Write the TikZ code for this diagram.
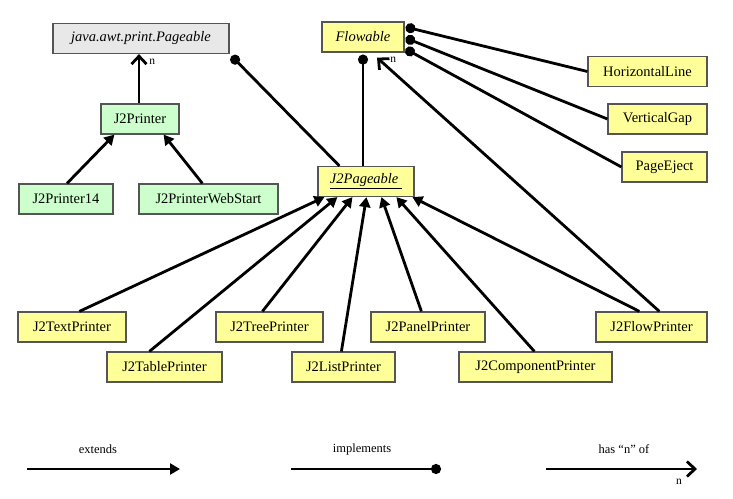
\documentclass[tikz,border=0pt]{standalone}
\usepackage{fontspec}
\setmainfont{Liberation Serif}
\usetikzlibrary{arrows.meta}
\definecolor{clsyellow}{HTML}{FFFF99}
\definecolor{clsgreen}{HTML}{CCFFCC}
\definecolor{clsgray}{HTML}{E8E8E8}
\definecolor{clsborder}{HTML}{555555}

\begin{document}
\begin{tikzpicture}[x=1pt, y=-1pt,
  cls/.style={draw=clsborder, line width=1.2pt, fill=clsyellow, minimum height=30pt, inner sep=0pt, font=\fontsize{14.5}{16}\selectfont},
  grn/.style={cls, fill=clsgreen},
  gry/.style={cls, fill=clsgray},
  link/.style={line width=2.8pt},
  extends/.style={link, -{Triangle[length=10pt, width=11pt]}},
  implements/.style={link, -{Circle[length=10pt]}},
  hasn/.style={link, -{Straight Barb[length=8pt, width=15pt]}},
  nlab/.style={font=\fontsize{11.5}{12}\selectfont, inner sep=0pt},
  legend/.style={font=\fontsize{12.5}{14}\selectfont, inner sep=0pt}]
\useasboundingbox (0,0) rectangle (733,498);

\node[gry, minimum width=176pt] (pageable) at (141,38.5) {\textit{java.awt.print.Pageable}};
\node[cls, minimum width=82pt] (flowable) at (363,37) {\textit{Flowable}};
\node[grn, minimum width=78pt] (j2printer) at (140,119) {J2Printer};
\node[grn, minimum width=94pt] (j2printer14) at (66,199) {J2Printer14};
\node[grn, minimum width=139pt] (webstart) at (208.5,199) {J2PrinterWebStart};
\node[cls, minimum width=96pt] (j2pageable) at (366,181.5) {\underline{\textit{J2Pageable}\ }};
\node[cls, minimum width=119pt] (hline) at (647.5,71.5) {HorizontalLine};
\node[cls, minimum width=99pt] (vgap) at (657.5,119) {VerticalGap};
\node[cls, minimum width=85pt] (pageeject) at (664.5,167) {PageEject};
\node[cls, minimum width=108pt] (textprinter) at (72,327) {J2TextPrinter};
\node[cls, minimum width=115pt] (tableprinter) at (164.5,367) {J2TablePrinter};
\node[cls, minimum width=107pt] (treeprinter) at (269.5,327) {J2TreePrinter};
\node[cls, minimum width=103pt] (listprinter) at (343.5,367) {J2ListPrinter};
\node[cls, minimum width=114pt] (panelprinter) at (428,327) {J2PanelPrinter};
\node[cls, minimum width=153pt] (compprinter) at (535.5,367) {J2ComponentPrinter};
\node[cls, minimum width=111pt] (flowprinter) at (651.5,327) {J2FlowPrinter};

\draw[hasn] ([xshift=-1pt]j2printer.north) -- ([xshift=-2pt]pageable.south) node[nlab, pos=0.84, right=9pt] (n1) {n};
\draw[extends] ([xshift=1pt]j2printer14.north) -- ([xshift=14pt]j2printer.south west);
\draw[extends] ([xshift=64pt]webstart.north west) -- ([xshift=-16pt]j2printer.south east);
\draw[implements] ([xshift=22pt]j2pageable.north west) -- ([shift={(2pt,-2pt)}]pageable.south east);
\draw[implements] ([xshift=-3pt]j2pageable.north) -- ([yshift=-2pt]flowable.south);
\draw[implements] (hline.west) -- ([shift={(1pt,10pt)}]flowable.east);
\draw[implements] (vgap.west) -- ([shift={(1pt,-1pt)}]flowable.east);
\draw[implements] (pageeject.west) -- ([shift={(1pt,-12pt)}]flowable.east);
\draw[hasn] ([xshift=64pt]flowprinter.north west) -- ([shift={(14pt,-5pt)}]flowable.south) node[nlab, at end, right=12pt, yshift=-2pt] (n2) {n};

\draw[extends] ([xshift=62pt]textprinter.north west) -- ([xshift=7pt]j2pageable.south west);
\draw[extends] ([xshift=43pt]tableprinter.north west) -- ([xshift=20pt]j2pageable.south west);
\draw[extends] ([xshift=47pt]treeprinter.north west) -- ([xshift=35pt]j2pageable.south west);
\draw[extends] ([xshift=50pt]listprinter.north west) -- ([xshift=49pt]j2pageable.south west);
\draw[extends] ([xshift=51pt]panelprinter.north west) -- ([xshift=64pt]j2pageable.south west);
\draw[extends] ([xshift=76pt]compprinter.north west) -- ([xshift=79pt]j2pageable.south west);
\draw[extends] ([xshift=44pt]flowprinter.north west) -- ([xshift=95pt]j2pageable.south west);

\coordinate (ext1) at (27,469);
\coordinate (ext2) at (180,469);
\coordinate (imp1) at (291,469);
\coordinate (imp2) at (441,469);
\coordinate (has1) at (546,469);
\coordinate (has2) at (697,469);
\draw[extends] (ext1) -- (ext2);
\draw[implements] (imp1) -- (imp2);
\draw[hasn] (has1) -- (has2);
\node[legend] (extlab) at (98,449) {extends};
\node[legend] (implab) at (362,449) {implements};
\node[legend] (haslab) at (624,449) {has “n” of};
\node[nlab] (n3) at (679,482) {n};
\end{tikzpicture}
\end{document}
